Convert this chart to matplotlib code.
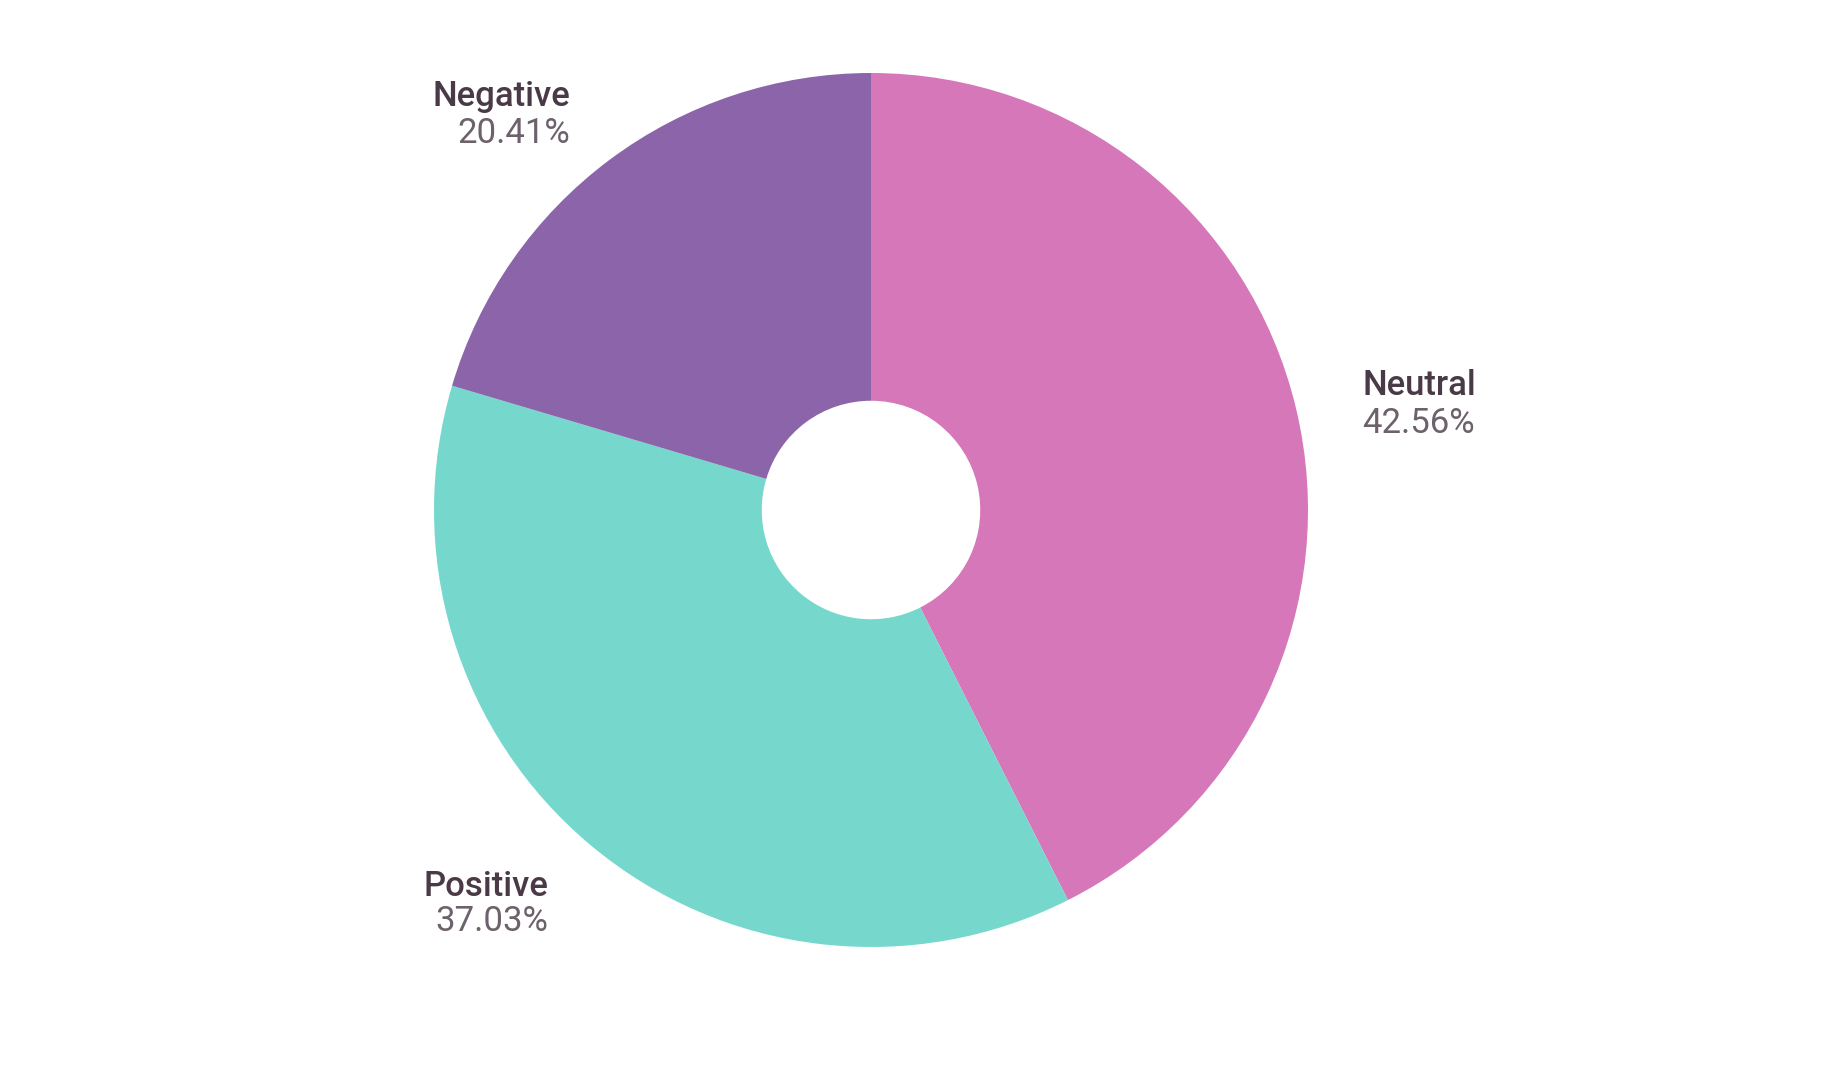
import matplotlib
matplotlib.use("Agg")
import matplotlib.pyplot as plt

# ---- data ----
categories = ["Neutral", "Positive", "Negative"]
shares = [42.56, 37.03, 20.41]
pct_labels = ["42.56%", "37.03%", "20.41%"]

# ---- style / layout ----
colors = ["#D577B9", "#76D8CC", "#8C64AA"]
name_color = "#4a3a47"
pct_color = "#6d616c"
W, H, DPI = 1828, 1078, 100
cx_px, cy_px, R_px = 871, 510, 437
hole_ratio = 0.25
# label anchors in units of pie radius: (x, y_name, y_pct, ha)
label_pos = [(1.124, 0.263, 0.176, "left"),
             (-0.739, -0.883, -0.963, "right"),
             (-0.689, 0.924, 0.839, "right")]

plt.rcParams["font.family"] = ["Roboto", "DejaVu Sans"]
fig = plt.figure(figsize=(W / DPI, H / DPI), dpi=DPI)
ax = fig.add_axes([0, 0, 1, 1])

ax.pie(shares, colors=colors, startangle=90, counterclock=False,
       radius=1.0, wedgeprops=dict(width=1 - hole_ratio, linewidth=0, antialiased=True))

ax.set_xlim(-cx_px / R_px, (W - cx_px) / R_px)
ax.set_ylim(-(H - cy_px) / R_px, cy_px / R_px)
ax.set_aspect("auto")
ax.axis("off")

for name, pct, (x, yn, yp, ha) in zip(categories, pct_labels, label_pos):
    ax.text(x, yn, name, ha=ha, va="baseline", fontsize=25,
            color=name_color, fontweight="medium")
    ax.text(x, yp, pct, ha=ha, va="baseline", fontsize=25, color=pct_color)

fig.savefig("out.png", dpi=DPI, facecolor="white")
